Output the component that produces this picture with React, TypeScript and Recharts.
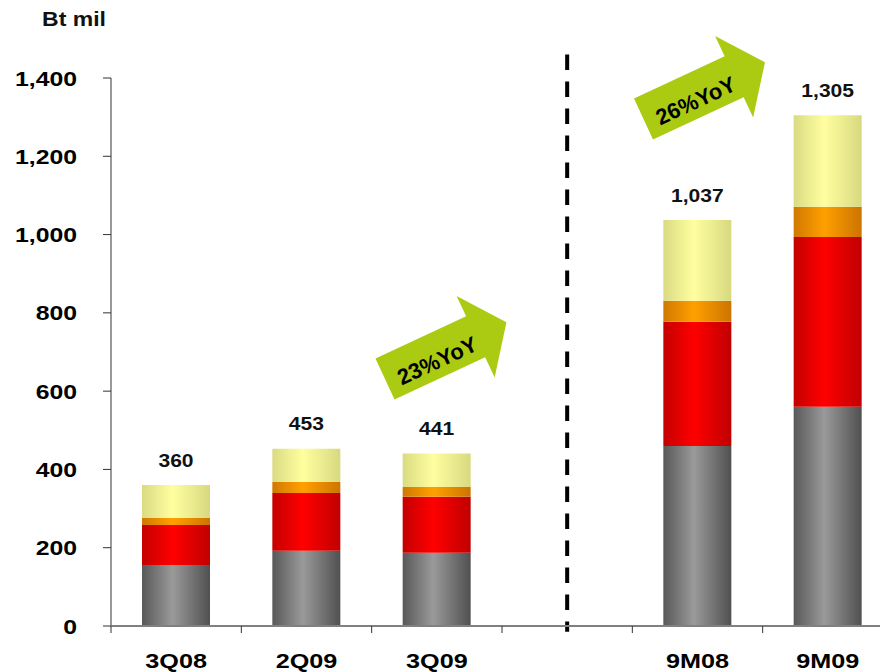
import { BarChart, Bar, XAxis, YAxis, ReferenceLine, LabelList } from 'recharts'

const categories = ['3Q08', '2Q09', '3Q09', ' ', '9M08', '9M09']
const greyValues = [156, 192, 187, null, 460, 560]
const redValues = [102, 148, 143, null, 317, 434]
const orangeValues = [18, 28, 25, null, 54, 77]
const yellowValues = [84, 85, 86, null, 206, 234]
const yTicks = [0, 200, 400, 600, 800, 1000, 1200, 1400]
const growthLabels = ['23%YoY', '26%YoY']

const data = categories.map((name, i) => ({
  name,
  grey: greyValues[i],
  red: redValues[i],
  orange: orangeValues[i],
  yellow: yellowValues[i],
  total:
    greyValues[i] == null
      ? null
      : (greyValues[i] ?? 0) + (redValues[i] ?? 0) + (orangeValues[i] ?? 0) + (yellowValues[i] ?? 0),
}))

const W = 900
const H = 672
const AXIS_W = 111
const RIGHT = 7
const TOP = 78
const BOTTOM = 626
const SLOT = (W - AXIS_W - RIGHT) / categories.length
const FONT = '"Liberation Sans", Arial, sans-serif'

function YTick(props: any) {
  const { x, y, payload } = props
  return (
    <g transform={`translate(${x},${y}) scale(1.18,1)`}>
      <text x={0} y={0} dy="0.36em" textAnchor="end" fontFamily={FONT} fontWeight="bold" fontSize={21} fill="#000">
        {Number(payload.value).toLocaleString('en-US')}
      </text>
    </g>
  )
}

function XTick(props: any) {
  const { x, payload } = props
  return (
    <g>
      <line x1={x - SLOT / 2} x2={x - SLOT / 2} y1={BOTTOM} y2={BOTTOM + 7} stroke="#333" strokeWidth={1} />
      <g transform={`translate(${x},${BOTTOM + 41.5}) scale(1.2,1)`}>
        <text x={0} y={0} textAnchor="middle" fontFamily={FONT} fontWeight="bold" fontSize={21} fill="#000">
          {payload.value}
        </text>
      </g>
    </g>
  )
}

function TotalLabel(props: any) {
  const { x, y, width, value } = props
  if (value == null) return null
  return (
    <g transform={`translate(${x + width / 2},${y - 18.5}) scale(1.17,1)`}>
      <text x={0} y={0} textAnchor="middle" fontFamily={FONT} fontWeight="bold" fontSize={18} fill="#111">
        {Number(value).toLocaleString('en-US')}
      </text>
    </g>
  )
}

// growth arrow, drawn along +x from its tail and rotated into place
function GrowthArrow({ x, y, text }: { x: number; y: number; text: string }) {
  return (
    <g transform={`translate(${x},${y}) rotate(-25)`}>
      <polygon
        points="0,-22.5 100,-22.5 100,-45 134,0 100,45 100,22.5 0,22.5"
        fill="#abcb12"
      />
      <text x={55} y={13} textAnchor="middle" fontFamily={FONT} fontWeight="bold" fontSize={22} fill="#000">
        {text}
      </text>
    </g>
  )
}

function gradient(id: string, edge: string, mid: string, edgeRight: string) {
  return (
    <linearGradient id={id} x1="0" y1="0" x2="1" y2="0">
      <stop offset="0" stopColor={edge} />
      <stop offset="0.45" stopColor={mid} />
      <stop offset="1" stopColor={edgeRight} />
    </linearGradient>
  )
}

export default function App() {
  return (
    <div style={{ position: 'absolute', left: 0, top: 0, width: 880, height: 672, overflow: 'hidden', background: '#fff' }}>
      <BarChart
        width={W}
        height={H}
        data={data}
        margin={{ top: TOP, right: RIGHT, left: 0, bottom: H - BOTTOM - 40 }}
      >
        <defs>
          {gradient('gGrey', '#585858', '#9a9a9a', '#505050')}
          {gradient('gRed', '#c40000', '#ff0000', '#c00000')}
          {gradient('gOrange', '#d07800', '#ffa000', '#cc7400')}
          {gradient('gYellow', '#dada82', '#ffffa0', '#d8d880')}
        </defs>
        <YAxis
          width={AXIS_W}
          domain={[0, 1400]}
          ticks={yTicks}
          interval={0}
          axisLine={{ stroke: '#333', strokeWidth: 1 }}
          tickLine={{ stroke: '#333', strokeWidth: 1 }}
          tickSize={8}
          tickMargin={26}
          tick={<YTick />}
        />
        <XAxis
          dataKey="name"
          height={40}
          interval={0}
          axisLine={{ stroke: '#808080', strokeWidth: 2 }}
          tickLine={false}
          tickSize={0}
          tickMargin={0}
          tick={<XTick />}
        />
        <Bar dataKey="grey" stackId="a" fill="url(#gGrey)" barSize={68} isAnimationActive={false} />
        <Bar dataKey="red" stackId="a" fill="url(#gRed)" barSize={68} isAnimationActive={false} />
        <Bar dataKey="orange" stackId="a" fill="url(#gOrange)" barSize={68} isAnimationActive={false} />
        <Bar dataKey="yellow" stackId="a" fill="url(#gYellow)" barSize={68} isAnimationActive={false}>
          <LabelList dataKey="total" content={<TotalLabel />} />
        </Bar>
        <ReferenceLine
          segment={[{ x: ' ', y: 1460 }, { x: ' ', y: -15 }]}
          stroke="#000"
          strokeWidth={4}
          strokeDasharray="15.5 11.5"
          ifOverflow="visible"
        />
      </BarChart>
      <svg width={880} height={672} style={{ position: 'absolute', left: 0, top: 0, pointerEvents: 'none' }}>
        <g transform="translate(74,26) scale(1.15,1)">
          <text x={0} y={0} textAnchor="middle" fontFamily={FONT} fontWeight="bold" fontSize={20} fill="#111">
            Bt mil
          </text>
        </g>
        <GrowthArrow x={385} y={379} text={growthLabels[0]} />
        <GrowthArrow x={643.5} y={119} text={growthLabels[1]} />
      </svg>
    </div>
  )
}
